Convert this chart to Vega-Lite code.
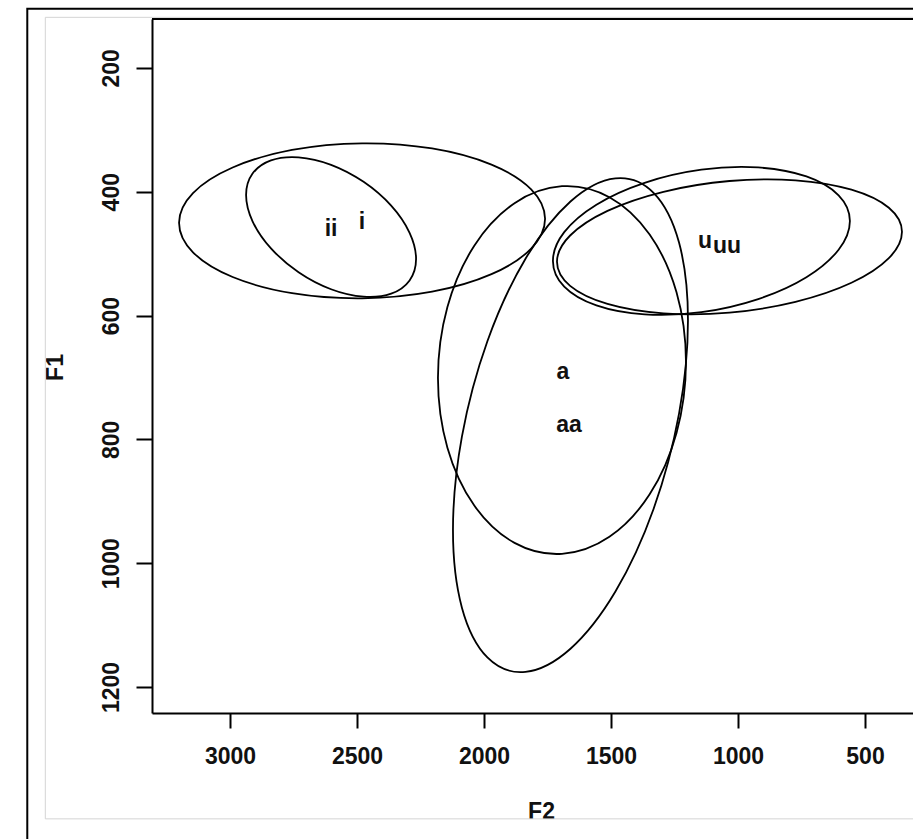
{
  "$schema": "https://vega.github.io/schema/vega-lite/v6.json",
  "width": 761,
  "height": 694,
  "autosize": "none",
  "padding": {"left": 152, "top": 19, "right": 0, "bottom": 126},
  "background": "white",
  "config": {
    "view": {"stroke": null},
    "font": "Liberation Sans",
    "axis": {
      "grid": false, "domain": true, "domainColor": "black", "domainWidth": 2,
      "ticks": true, "tickColor": "black", "tickWidth": 2,
      "labelFont": "Liberation Sans", "labelFontSize": 23, "labelFontWeight": "bold", "labelColor": "#111111",
      "labelFlush": false, "labelOverlap": false,
      "titleFont": "Liberation Sans", "titleFontSize": 23, "titleFontWeight": "bold", "titleColor": "#111111"
    },
    "axisX": {"tickSize": 15, "labelPadding": 17, "labelBaseline": "top", "labelAlign": "center", "titleX": 389, "titleY": 87, "titleBaseline": "top", "titleAlign": "center"},
    "axisY": {"tickSize": 16, "labelPadding": 18, "labelAngle": 270, "labelBaseline": "alphabetic", "labelAlign": "center", "titleAngle": 270, "titleX": -90, "titleY": 348, "titleBaseline": "alphabetic", "titleAlign": "center"}
  },
  "datasets": {
    "ellipses": [
      {"e": "i", "k": 0, "F2": 1759.5, "F1": 443.8},
      {"e": "i", "k": 1, "F2": 1814.3, "F1": 491.9},
      {"e": "i", "k": 2, "F2": 1970.5, "F1": 533.2},
      {"e": "i", "k": 3, "F2": 2204.3, "F1": 561.5},
      {"e": "i", "k": 4, "F2": 2480.0, "F1": 572.2},
      {"e": "i", "k": 5, "F2": 2755.7, "F1": 563.9},
      {"e": "i", "k": 6, "F2": 2989.5, "F1": 537.8},
      {"e": "i", "k": 7, "F2": 3145.7, "F1": 497.9},
      {"e": "i", "k": 8, "F2": 3200.5, "F1": 450.2},
      {"e": "i", "k": 9, "F2": 3145.7, "F1": 402.1},
      {"e": "i", "k": 10, "F2": 2989.5, "F1": 360.8},
      {"e": "i", "k": 11, "F2": 2755.7, "F1": 332.5},
      {"e": "i", "k": 12, "F2": 2480.0, "F1": 321.8},
      {"e": "i", "k": 13, "F2": 2204.3, "F1": 330.1},
      {"e": "i", "k": 14, "F2": 1970.5, "F1": 356.2},
      {"e": "i", "k": 15, "F2": 1814.3, "F1": 396.1},
      {"e": "ii", "k": 0, "F2": 2267.4, "F1": 508.7},
      {"e": "ii", "k": 1, "F2": 2292.9, "F1": 543.3},
      {"e": "ii", "k": 2, "F2": 2365.4, "F1": 564.7},
      {"e": "ii", "k": 3, "F2": 2474.0, "F1": 569.6},
      {"e": "ii", "k": 4, "F2": 2602.0, "F1": 557.5},
      {"e": "ii", "k": 5, "F2": 2730.0, "F1": 530.0},
      {"e": "ii", "k": 6, "F2": 2838.6, "F1": 491.5},
      {"e": "ii", "k": 7, "F2": 2911.1, "F1": 447.7},
      {"e": "ii", "k": 8, "F2": 2936.6, "F1": 405.3},
      {"e": "ii", "k": 9, "F2": 2911.1, "F1": 370.7},
      {"e": "ii", "k": 10, "F2": 2838.6, "F1": 349.3},
      {"e": "ii", "k": 11, "F2": 2730.0, "F1": 344.4},
      {"e": "ii", "k": 12, "F2": 2602.0, "F1": 356.5},
      {"e": "ii", "k": 13, "F2": 2474.0, "F1": 384.0},
      {"e": "ii", "k": 14, "F2": 2365.4, "F1": 422.5},
      {"e": "ii", "k": 15, "F2": 2292.9, "F1": 466.3},
      {"e": "u", "k": 0, "F2": 559.4, "F1": 447.2},
      {"e": "u", "k": 1, "F2": 603.9, "F1": 493.7},
      {"e": "u", "k": 2, "F2": 730.6, "F1": 538.1},
      {"e": "u", "k": 3, "F2": 920.3, "F1": 573.4},
      {"e": "u", "k": 4, "F2": 1144.0, "F1": 594.6},
      {"e": "u", "k": 5, "F2": 1367.7, "F1": 598.2},
      {"e": "u", "k": 6, "F2": 1557.4, "F1": 583.7},
      {"e": "u", "k": 7, "F2": 1684.1, "F1": 553.3},
      {"e": "u", "k": 8, "F2": 1728.6, "F1": 511.8},
      {"e": "u", "k": 9, "F2": 1684.1, "F1": 465.3},
      {"e": "u", "k": 10, "F2": 1557.4, "F1": 420.9},
      {"e": "u", "k": 11, "F2": 1367.7, "F1": 385.6},
      {"e": "u", "k": 12, "F2": 1144.0, "F1": 364.4},
      {"e": "u", "k": 13, "F2": 920.3, "F1": 360.8},
      {"e": "u", "k": 14, "F2": 730.6, "F1": 375.3},
      {"e": "u", "k": 15, "F2": 603.9, "F1": 405.7},
      {"e": "uu", "k": 0, "F2": 354.4, "F1": 464.8},
      {"e": "uu", "k": 1, "F2": 406.1, "F1": 507.3},
      {"e": "uu", "k": 2, "F2": 553.3, "F1": 547.1},
      {"e": "uu", "k": 3, "F2": 773.6, "F1": 577.9},
      {"e": "uu", "k": 4, "F2": 1033.5, "F1": 595.3},
      {"e": "uu", "k": 5, "F2": 1293.4, "F1": 596.5},
      {"e": "uu", "k": 6, "F2": 1513.7, "F1": 581.3},
      {"e": "uu", "k": 7, "F2": 1660.9, "F1": 552.1},
      {"e": "uu", "k": 8, "F2": 1712.6, "F1": 513.2},
      {"e": "uu", "k": 9, "F2": 1660.9, "F1": 470.7},
      {"e": "uu", "k": 10, "F2": 1513.7, "F1": 430.9},
      {"e": "uu", "k": 11, "F2": 1293.4, "F1": 400.1},
      {"e": "uu", "k": 12, "F2": 1033.5, "F1": 382.7},
      {"e": "uu", "k": 13, "F2": 773.6, "F1": 381.5},
      {"e": "uu", "k": 14, "F2": 553.3, "F1": 396.7},
      {"e": "uu", "k": 15, "F2": 406.1, "F1": 425.9},
      {"e": "a", "k": 0, "F2": 1204.8, "F1": 675.1},
      {"e": "a", "k": 1, "F2": 1242.0, "F1": 789.7},
      {"e": "a", "k": 2, "F2": 1347.8, "F1": 888.8},
      {"e": "a", "k": 3, "F2": 1506.2, "F1": 957.4},
      {"e": "a", "k": 4, "F2": 1693.0, "F1": 984.9},
      {"e": "a", "k": 5, "F2": 1879.8, "F1": 967.2},
      {"e": "a", "k": 6, "F2": 2038.2, "F1": 907.0},
      {"e": "a", "k": 7, "F2": 2144.0, "F1": 813.5},
      {"e": "a", "k": 8, "F2": 2181.2, "F1": 700.9},
      {"e": "a", "k": 9, "F2": 2144.0, "F1": 586.3},
      {"e": "a", "k": 10, "F2": 2038.2, "F1": 487.2},
      {"e": "a", "k": 11, "F2": 1879.8, "F1": 418.6},
      {"e": "a", "k": 12, "F2": 1693.0, "F1": 391.1},
      {"e": "a", "k": 13, "F2": 1506.2, "F1": 408.8},
      {"e": "a", "k": 14, "F2": 1347.8, "F1": 469.0},
      {"e": "a", "k": 15, "F2": 1242.0, "F1": 562.5},
      {"e": "aa", "k": 0, "F2": 1196.9, "F1": 607.4},
      {"e": "aa", "k": 1, "F2": 1232.1, "F1": 758.5},
      {"e": "aa", "k": 2, "F2": 1332.4, "F1": 912.5},
      {"e": "aa", "k": 3, "F2": 1482.5, "F1": 1045.8},
      {"e": "aa", "k": 4, "F2": 1659.5, "F1": 1138.2},
      {"e": "aa", "k": 5, "F2": 1836.5, "F1": 1175.6},
      {"e": "aa", "k": 6, "F2": 1986.6, "F1": 1152.3},
      {"e": "aa", "k": 7, "F2": 2086.9, "F1": 1071.9},
      {"e": "aa", "k": 8, "F2": 2122.1, "F1": 946.6},
      {"e": "aa", "k": 9, "F2": 2086.9, "F1": 795.5},
      {"e": "aa", "k": 10, "F2": 1986.6, "F1": 641.5},
      {"e": "aa", "k": 11, "F2": 1836.5, "F1": 508.2},
      {"e": "aa", "k": 12, "F2": 1659.5, "F1": 415.8},
      {"e": "aa", "k": 13, "F2": 1482.5, "F1": 378.4},
      {"e": "aa", "k": 14, "F2": 1332.4, "F1": 401.7},
      {"e": "aa", "k": 15, "F2": 1232.1, "F1": 482.1}
    ],
    "labels": [
      {"label": "i", "F2": 2480, "F1": 449},
      {"label": "ii", "F2": 2602, "F1": 460},
      {"label": "u", "F2": 1130, "F1": 480},
      {"label": "uu", "F2": 1043, "F1": 487},
      {"label": "a", "F2": 1689, "F1": 691},
      {"label": "aa", "F2": 1665, "F1": 777}
    ]
  },
  "layer": [
    {
      "data": {"name": "ellipses"},
      "mark": {"type": "line", "interpolate": "cardinal-closed", "color": "black", "strokeWidth": 1.8},
      "encoding": {
        "x": {
          "field": "F2", "type": "quantitative",
          "scale": {"domain": [311, 3307], "reverse": true, "nice": false, "zero": false},
          "axis": {"values": [3000, 2500, 2000, 1500, 1000, 500], "format": "d", "title": "F2"}
        },
        "y": {
          "field": "F1", "type": "quantitative",
          "scale": {"domain": [121, 1242], "reverse": true, "nice": false, "zero": false},
          "axis": {"values": [200, 400, 600, 800, 1000, 1200], "format": "d", "title": "F1"}
        },
        "detail": {"field": "e", "type": "nominal"},
        "order": {"field": "k", "type": "quantitative"}
      }
    },
    {
      "data": {"name": "labels"},
      "mark": {"type": "text", "font": "Liberation Sans", "fontSize": 23, "fontWeight": "bold", "align": "center", "baseline": "middle", "color": "#111111"},
      "encoding": {
        "x": {
          "field": "F2", "type": "quantitative",
          "scale": {"domain": [311, 3307], "reverse": true, "nice": false, "zero": false},
          "axis": {"values": [3000, 2500, 2000, 1500, 1000, 500], "format": "d", "title": "F2"}
        },
        "y": {
          "field": "F1", "type": "quantitative",
          "scale": {"domain": [121, 1242], "reverse": true, "nice": false, "zero": false},
          "axis": {"values": [200, 400, 600, 800, 1000, 1200], "format": "d", "title": "F1"}
        },
        "text": {"field": "label", "type": "nominal"}
      }
    },
    {
      "data": {"values": [{}]},
      "mark": {"type": "rect", "fillOpacity": 0, "stroke": "#d4d4d4", "strokeWidth": 1},
      "encoding": {
        "x": {"datum": 3727, "type": "quantitative", "scale": {"domain": [311, 3307], "reverse": true, "nice": false, "zero": false}, "axis": {"values": [3000, 2500, 2000, 1500, 1000, 500], "format": "d", "title": "F2"}},
        "x2": {"datum": -300},
        "y": {"datum": 118.3, "type": "quantitative", "scale": {"domain": [121, 1242], "reverse": true, "nice": false, "zero": false}, "axis": {"values": [200, 400, 600, 800, 1000, 1200], "format": "d", "title": "F1"}},
        "y2": {"datum": 1413}
      }
    },
    {
      "data": {"values": [{}]},
      "mark": {"type": "rect", "fillOpacity": 0, "stroke": "black", "strokeWidth": 2},
      "encoding": {
        "x": {"datum": 3798, "type": "quantitative", "scale": {"domain": [311, 3307], "reverse": true, "nice": false, "zero": false}, "axis": {"values": [3000, 2500, 2000, 1500, 1000, 500], "format": "d", "title": "F2"}},
        "x2": {"datum": -300},
        "y": {"datum": 104.4, "type": "quantitative", "scale": {"domain": [121, 1242], "reverse": true, "nice": false, "zero": false}, "axis": {"values": [200, 400, 600, 800, 1000, 1200], "format": "d", "title": "F1"}},
        "y2": {"datum": 1470}
      }
    },
    {
      "data": {"values": [{}]},
      "mark": {"type": "rule", "color": "black", "strokeWidth": 2},
      "encoding": {
        "y": {"datum": 121, "type": "quantitative", "scale": {"domain": [121, 1242], "reverse": true, "nice": false, "zero": false}, "axis": {"values": [200, 400, 600, 800, 1000, 1200], "format": "d", "title": "F1"}}
      }
    }
  ]
}
